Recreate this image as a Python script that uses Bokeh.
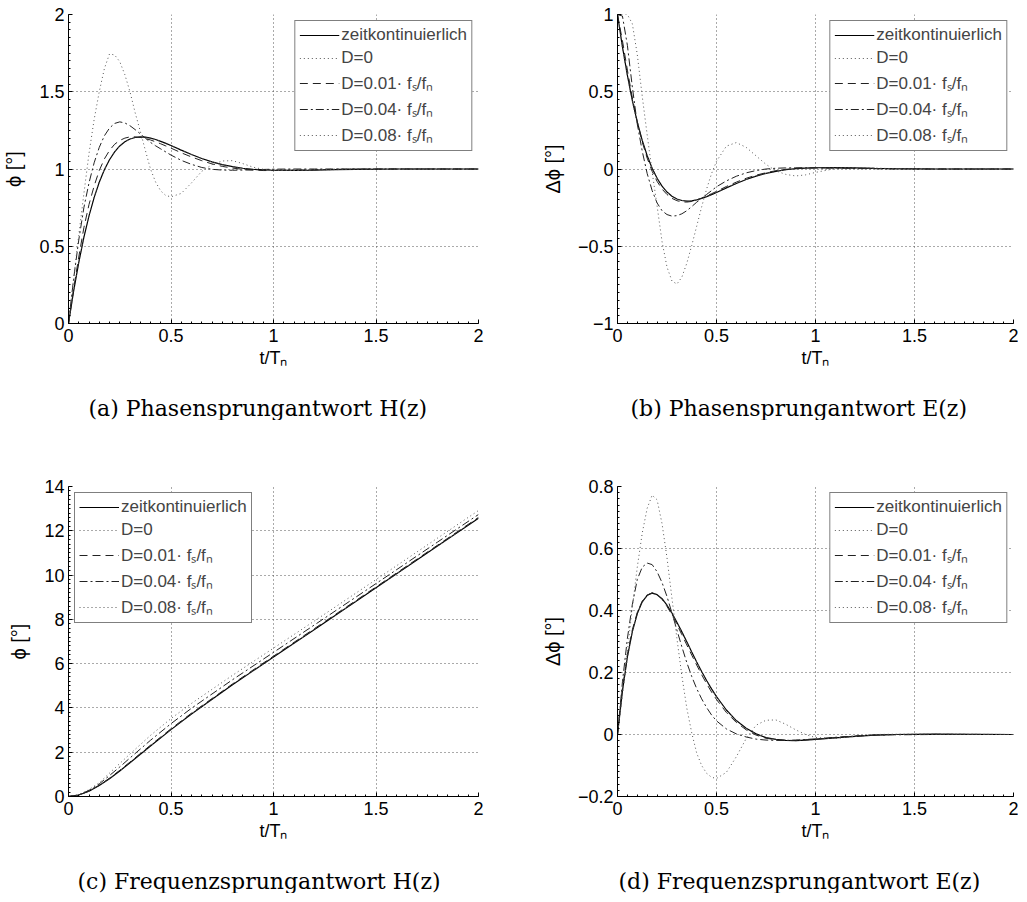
from bokeh.plotting import figure
from bokeh.layouts import column, row
from bokeh.models import (Range1d, SingleIntervalTicker, CustomJSTickFormatter,
                          Legend, LegendItem, Title)
from bokeh.embed import file_html
from bokeh.resources import INLINE

# ---------------- data ----------------
T = [0, 0.025, 0.05, 0.075, 0.1, 0.125, 0.15, 0.175, 0.2, 0.225, 0.25, 0.275, 0.3,
     0.325, 0.35, 0.375, 0.4, 0.425, 0.45, 0.475, 0.5, 0.55, 0.6, 0.65, 0.7, 0.75,
     0.8, 0.85, 0.9, 0.95, 1.0, 1.1, 1.2, 1.3, 1.4, 1.6, 2.0]
T_C = [0, 0.05, 0.1, 0.15, 0.2, 0.25, 0.3, 0.4, 0.5, 0.6, 0.8, 1.0, 1.2, 1.5, 1.8, 2.0]

# (a) Phasensprungantwort H(z)
A_CONT = [0, 0.210, 0.394, 0.557, 0.697, 0.815, 0.914, 0.995, 1.060, 1.111, 1.149, 1.176, 1.194,
          1.204, 1.208, 1.206, 1.200, 1.191, 1.179, 1.166, 1.152, 1.122, 1.094, 1.068, 1.046, 1.028,
          1.015, 1.005, 0.998, 0.994, 0.992, 0.991, 0.993, 0.996, 0.998, 1.0, 1.0]
A_D0 = [0, 0.215, 0.400, 0.562, 0.700, 0.818, 0.916, 0.997, 1.061, 1.112, 1.150, 1.177, 1.194,
        1.204, 1.207, 1.205, 1.199, 1.190, 1.178, 1.165, 1.151, 1.121, 1.093, 1.067, 1.045, 1.028,
        1.015, 1.005, 0.998, 0.994, 0.992, 0.991, 0.993, 0.996, 0.998, 1.0, 1.0]
A_D001 = [0, 0.225, 0.430, 0.620, 0.770, 0.890, 0.990, 1.065, 1.120, 1.160, 1.185, 1.200, 1.208,
          1.208, 1.204, 1.197, 1.188, 1.176, 1.163, 1.149, 1.135, 1.105, 1.078, 1.054, 1.033, 1.017,
          1.006, 0.998, 0.993, 0.990, 0.990, 0.992, 0.995, 0.998, 0.999, 1.0, 1.0]
A_D004 = [0, 0.290, 0.540, 0.750, 0.910, 1.040, 1.140, 1.215, 1.265, 1.295, 1.305, 1.298, 1.280,
          1.255, 1.228, 1.200, 1.172, 1.150, 1.130, 1.110, 1.090, 1.056, 1.030, 1.010, 0.998, 0.993,
          0.992, 0.993, 0.995, 0.997, 0.999, 1.0, 1.0, 1.0, 1.0, 1.0, 1.0]
A_D008 = [0, 0.290, 0.570, 0.840, 1.100, 1.320, 1.500, 1.650, 1.745, 1.738, 1.695, 1.610, 1.500,
          1.365, 1.245, 1.120, 1.000, 0.915, 0.858, 0.828, 0.820, 0.842, 0.910, 0.985, 1.028, 1.052,
          1.054, 1.035, 1.012, 0.998, 0.991, 0.990, 0.995, 0.999, 1.0, 1.0, 1.0]

# (b) Phasensprungantwort E(z)
B_CONT = [1, 0.790, 0.606, 0.443, 0.303, 0.185, 0.086, 0.005, -0.060, -0.111, -0.149, -0.176, -0.194,
          -0.204, -0.208, -0.206, -0.200, -0.191, -0.179, -0.166, -0.152, -0.122, -0.094, -0.068,
          -0.046, -0.028, -0.015, -0.005, 0.002, 0.006, 0.008, 0.009, 0.007, 0.004, 0.002, 0.0, 0.0]
B_D0 = [1, 0.785, 0.600, 0.438, 0.300, 0.183, 0.085, 0.004, -0.061, -0.112, -0.150, -0.177, -0.194,
        -0.204, -0.208, -0.206, -0.200, -0.191, -0.179, -0.166, -0.152, -0.122, -0.094, -0.068,
        -0.046, -0.028, -0.015, -0.005, 0.002, 0.006, 0.008, 0.009, 0.007, 0.004, 0.002, 0.0, 0.0]
B_D001 = [1, 0.830, 0.640, 0.460, 0.305, 0.175, 0.070, -0.015, -0.080, -0.130, -0.165, -0.190, -0.205,
          -0.213, -0.214, -0.210, -0.200, -0.188, -0.174, -0.160, -0.145, -0.113, -0.085, -0.060,
          -0.040, -0.024, -0.011, -0.002, 0.003, 0.006, 0.007, 0.007, 0.005, 0.003, 0.001, 0.0, 0.0]
B_D004 = [1, 0.990, 0.800, 0.530, 0.290, 0.115, -0.030, -0.140, -0.220, -0.270, -0.295, -0.305, -0.302,
          -0.290, -0.270, -0.243, -0.215, -0.190, -0.165, -0.140, -0.115, -0.077, -0.047, -0.025,
          -0.010, 0.000, 0.005, 0.007, 0.008, 0.008, 0.007, 0.005, 0.003, 0.002, 0.001, 0.0, 0.0]
B_D008 = [1, 1.0, 1.0, 0.940, 0.740, 0.470, 0.220, -0.020, -0.240, -0.470, -0.635, -0.725, -0.745,
          -0.700, -0.610, -0.495, -0.370, -0.245, -0.130, -0.030, 0.050, 0.148, 0.171, 0.140,
          0.085, 0.030, -0.012, -0.035, -0.045, -0.038, -0.022, 0.003, 0.009, 0.006, 0.002, 0.0, 0.0]

# (c) Frequenzsprungantwort H(z)
C_CONT = [0, 0.065, 0.238, 0.493, 0.806, 1.154, 1.522, 2.279, 3.020, 3.725, 5.043, 6.299, 7.546,
          9.425, 11.310, 12.566]
C_D0 = [0, 0.066, 0.240, 0.495, 0.808, 1.156, 1.524, 2.281, 3.022, 3.727, 5.045, 6.300, 7.547,
        9.426, 11.311, 12.567]
C_D001 = [0, 0.068, 0.246, 0.508, 0.828, 1.182, 1.556, 2.318, 3.060, 3.765, 5.083, 6.339, 7.586,
          9.465, 11.350, 12.606]
C_D004 = [0, 0.070, 0.278, 0.570, 0.946, 1.334, 1.742, 2.539, 3.290, 3.985, 5.273, 6.509, 7.750,
          9.615, 11.490, 12.736]
C_D008 = [0, 0.075, 0.310, 0.620, 1.056, 1.490, 1.920, 2.760, 3.520, 4.205, 5.473, 6.700, 7.930,
          9.795, 11.670, 12.916]

# (d) Frequenzsprungantwort E(z)
D_CONT = [0, 0.140, 0.250, 0.332, 0.390, 0.428, 0.449, 0.456, 0.451, 0.438, 0.417, 0.392, 0.362,
          0.331, 0.299, 0.266, 0.234, 0.203, 0.174, 0.147, 0.122, 0.079, 0.045, 0.020, 0.002,
          -0.010, -0.016, -0.019, -0.020, -0.018, -0.016, -0.011, -0.006, -0.002, 0.0, 0.001, 0.0]
D_D0 = [0, 0.138, 0.248, 0.331, 0.389, 0.427, 0.448, 0.456, 0.451, 0.438, 0.417, 0.392, 0.363,
        0.331, 0.299, 0.266, 0.234, 0.203, 0.174, 0.147, 0.122, 0.079, 0.045, 0.020, 0.002,
        -0.010, -0.016, -0.019, -0.020, -0.018, -0.016, -0.011, -0.006, -0.002, 0.0, 0.001, 0.0]
D_D001 = [0, 0.148, 0.258, 0.338, 0.394, 0.430, 0.450, 0.457, 0.452, 0.436, 0.413, 0.386, 0.355,
          0.322, 0.289, 0.256, 0.224, 0.193, 0.164, 0.137, 0.113, 0.071, 0.039, 0.015, -0.002,
          -0.012, -0.017, -0.019, -0.019, -0.017, -0.015, -0.010, -0.005, -0.002, 0.0, 0.0005, 0.0]
D_D004 = [0, 0.170, 0.310, 0.420, 0.500, 0.540, 0.553, 0.548, 0.525, 0.490, 0.445, 0.392, 0.337,
          0.283, 0.232, 0.187, 0.148, 0.115, 0.087, 0.063, 0.044, 0.018, 0.002, -0.008, -0.015,
          -0.018, -0.019, -0.019, -0.018, -0.016, -0.014, -0.009, -0.005, -0.002, -0.001, 0.0, 0.0]
D_D008 = [0, 0.130, 0.270, 0.410, 0.540, 0.650, 0.730, 0.772, 0.757, 0.680, 0.570, 0.440, 0.310,
          0.190, 0.085, 0.005, -0.060, -0.100, -0.125, -0.138, -0.142, -0.122, -0.072, -0.013,
          0.030, 0.046, 0.047, 0.033, 0.015, 0.000, -0.010, -0.013, -0.006, 0.0, 0.001, 0.001, 0.0]

LABELS = ["zeitkontinuierlich", "D=0", "D=0.01\u00b7 f\u209b/f\u2099",
          "D=0.04\u00b7 f\u209b/f\u2099", "D=0.08\u00b7 f\u209b/f\u2099"]
CAPTIONS = ["(a) Phasensprungantwort H(z)", "(b) Phasensprungantwort E(z)",
            "(c) Frequenzsprungantwort H(z)", "(d) Frequenzsprungantwort E(z)"]
X_LABEL = "t/T\u2099"
Y_LABELS = ["\u03d5 [\u00b0]", "\u0394\u03d5 [\u00b0]", "\u03d5 [\u00b0]", "\u0394\u03d5 [\u00b0]"]

STYLES = [
    dict(line_color="black", line_width=1.2, line_dash="solid"),
    dict(line_color="#555555", line_width=1, line_dash="1 3"),
    dict(line_color="#222222", line_width=1, line_dash="8 5"),
    dict(line_color="#222222", line_width=1, line_dash="8 3 2 3"),
    dict(line_color="#555555", line_width=1, line_dash="1 3"),
]

SANS = "Liberation Sans"
SERIF = "DejaVu Serif"

FMT = CustomJSTickFormatter(code="""
const v = parseFloat(Math.abs(tick).toFixed(6));
return (tick < -1e-9 ? '\u2212' : '') + v.toString();
""")


def panel(tx, series, yr, ystep, ylabel, caption, leg_loc, w, h,
          mbl, mbr, mbt, mbb, cap_offset):
    p = figure(width=w, height=h, x_range=Range1d(0, 2), y_range=Range1d(*yr),
               output_backend="svg", toolbar_location=None, title=None,
               min_border_left=mbl, min_border_right=mbr,
               min_border_top=mbt, min_border_bottom=mbb)
    p.outline_line_color = None
    p.background_fill_color = "white"
    p.border_fill_color = "white"
    p.xaxis.ticker = SingleIntervalTicker(interval=0.5, num_minor_ticks=10)
    p.yaxis.ticker = SingleIntervalTicker(interval=ystep, num_minor_ticks=10)
    for ax in (p.xaxis[0], p.yaxis[0]):
        ax.formatter = FMT
        ax.axis_line_color = "black"
        ax.axis_line_width = 1
        ax.major_tick_in = 4
        ax.major_tick_out = 0
        ax.minor_tick_in = 2
        ax.minor_tick_out = 0
        ax.major_tick_line_color = "black"
        ax.minor_tick_line_color = "black"
        ax.major_label_text_font = SANS
        ax.major_label_text_font_size = "18px"
        ax.major_label_text_color = "black"
        ax.axis_label_text_font = SANS
        ax.axis_label_text_font_style = "normal"
        ax.axis_label_text_color = "black"
    p.xaxis.axis_label_text_font_size = "18px"
    p.yaxis.axis_label_text_font_size = "20px"
    p.xaxis.axis_label = X_LABEL
    p.yaxis.axis_label = ylabel
    p.xaxis.major_label_standoff = 5
    p.xaxis.axis_label_standoff = 3
    p.yaxis.major_label_standoff = 4
    p.yaxis.axis_label_standoff = 11
    p.grid.grid_line_color = "#555555"
    p.grid.grid_line_dash = "1 3"
    p.grid.grid_line_width = 1

    items = []
    for lab, ys, st in zip(LABELS, series, STYLES):
        r = p.line(tx, ys, **st)
        items.append(LegendItem(label=lab, renderers=[r]))
    leg = Legend(items=items, location=leg_loc,
                 border_line_color="black", border_line_width=1,
                 background_fill_color="white", background_fill_alpha=1,
                 label_text_font=SANS, label_text_font_size="17px",
                 glyph_width=40, glyph_height=20, label_height=20,
                 label_standoff=2, padding=4, spacing=3, margin=6)
    p.add_layout(leg)
    # spacer between the axis label and the caption
    p.add_layout(Title(text=" ", text_font_size="12px", standoff=7), "below")
    p.add_layout(Title(text=caption, align="left", offset=cap_offset, standoff=0,
                       text_font=SERIF, text_font_size="22px",
                       text_font_style="normal", text_color="black"), "below")
    return p


pa = panel(T, [A_CONT, A_D0, A_D001, A_D004, A_D008], (0, 2), 0.5, Y_LABELS[0],
           CAPTIONS[0], "top_right", 538, 420, 68, 60, 14, 97, 20)
pb = panel(T, [B_CONT, B_D0, B_D001, B_D004, B_D008], (-1, 1), 0.5, Y_LABELS[1],
           CAPTIONS[1], "top_right", 480, 420, 76, 5, 14, 97, 13)
pc = panel(T_C, [C_CONT, C_D0, C_D001, C_D004, C_D008], (0, 14), 2, Y_LABELS[2],
           CAPTIONS[2], "top_left", 538, 473, 68, 60, 66, 97, 9)
pd = panel(T, [D_CONT, D_D0, D_D001, D_D004, D_D008], (-0.2, 0.8), 0.2, Y_LABELS[3],
           CAPTIONS[3], "top_right", 480, 473, 76, 5, 66, 97, 1)

layout = column(row(pa, pb), row(pc, pd))
open("out.html", "w").write(file_html(layout, INLINE))
